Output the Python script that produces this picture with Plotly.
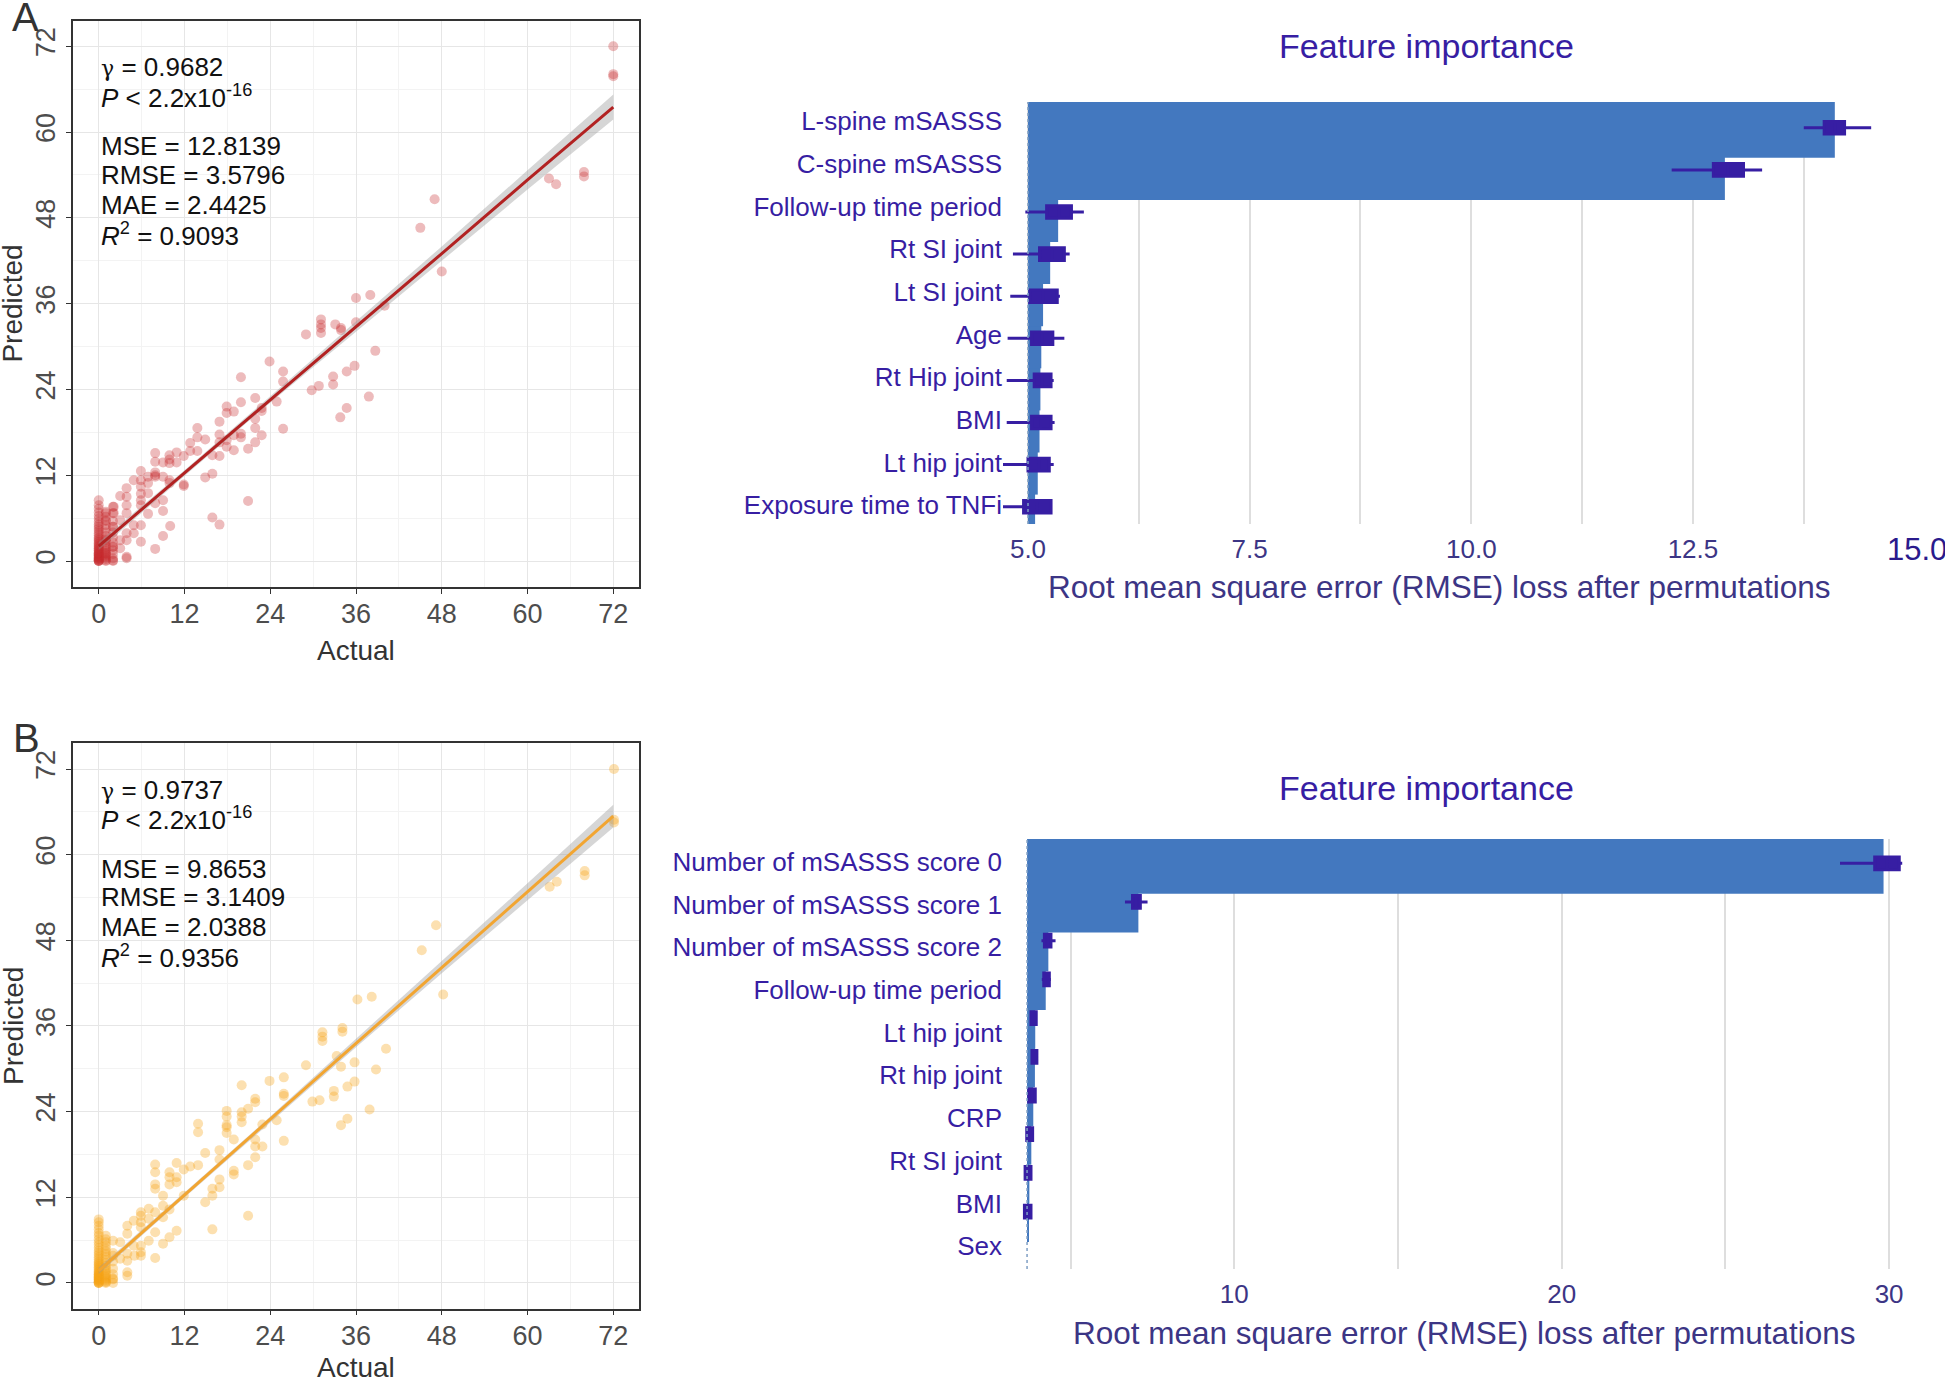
import plotly.graph_objects as go

W, H = 1945, 1382
FONT = "Liberation Sans, Arial, Helvetica, sans-serif"
INDIGO = "#371ea3"
BARBLUE = "#4378bf"

# ---------------- Panel A scatter (actual vs predicted) ----------------
A_actual_upper = [72, 72, 72, 67.9, 67.9, 63.0, 64.0, 47.0, 45.0, 48.0, 36.0, 38.0, 40.0,
                  31.1, 31.1, 31.1, 31.1, 33.1, 33.9, 33.9, 36.0, 29.0]
A_pred_upper = [72.0, 68.1, 67.8, 54.4, 53.8, 53.5, 52.7, 50.6, 46.6, 40.5, 36.8, 37.2, 35.7,
                33.8, 33.1, 32.6, 31.9, 33.1, 32.6, 32.3, 33.4, 31.7]
A_actual_mid = [38.7, 23.9, 25.8, 25.8, 19.9, 35.8, 34.7, 32.8, 32.8, 30.8,
                29.8, 37.8, 34.7, 33.8, 25.8, 21.9, 19.9, 17.9, 17.9, 18.9,
                24.9, 22.8, 22.8, 21.9, 21.9, 22.8, 21.9, 20.9, 19.9, 19.9,
                18.9, 17.9, 17.9, 16.9, 16.9, 16.9, 18.9, 16.9, 15.9, 13.8,
                13.8, 14.9, 12.8, 12.8, 13.8, 11.9, 10.9, 9.9, 9.9, 9.9,
                10.9, 9.0, 7.9, 7.9, 11.9, 11.9, 14.9, 15.9, 15.9, 16.9,
                20.9, 9.9, 9.9, 7.9, 7.9, 7.9, 9.0, 6.9, 5.9, 4.9,
                5.9, 5.9, 5.9, 5.9, 5.9, 6.9, 6.9, 7.9, 9.0, 9.0,
                6.9, 3.9, 3.9, 3.9, 3.9, 3.0, 3.0, 2.1, 2.1, 2.0,
                3.0, 3.0, 3.9, 3.9, 3.9, 3.9, 4.9, 4.9, 5.9, 5.9,
                7.9, 9.0, 10.0, 2.0, 2.0, 1.0, 1.0, 1.0, 1.0]
A_pred_mid = [29.4, 27.9, 26.5, 25.1, 25.7, 27.3, 26.5, 25.8, 24.7, 24.5,
              23.9, 23.0, 21.4, 20.1, 18.5, 22.8, 22.2, 21.6, 20.7, 20.9,
              22.3, 21.4, 21.0, 19.9, 18.6, 17.6, 16.6, 15.7, 17.8, 17.3,
              17.6, 16.9, 16.0, 19.5, 17.7, 16.6, 15.5, 14.7, 14.8, 18.6,
              17.3, 17.0, 16.5, 15.4, 15.4, 14.7, 15.2, 14.8, 14.2, 13.7,
              13.8, 13.8, 15.1, 13.9, 10.7, 10.5, 11.7, 12.2, 6.1, 5.1,
              8.4, 11.3, 10.9, 12.4, 12.0, 11.8, 11.8, 11.8, 12.6, 11.3,
              11.3, 10.4, 9.4, 8.5, 7.8, 10.9, 9.5, 8.1, 8.5, 7.0,
              6.6, 10.2, 9.0, 7.8, 6.7, 9.1, 5.7, 7.6, 6.7, 4.8,
              2.9, 1.8, 3.9, 2.9, 0.6, 0.4, 5.0, 3.9, 5.0, 2.7,
              1.7, 3.5, 4.9, 2.0, 0.1, 6.7, 5.7, 2.9, 1.1]
A_actual_low = [0] * 40 + [1] * 20 + [2] * 12
A_pred_low = [0.0, 0.0, 0.0, 0.1, 0.2, 0.3, 0.4, 0.5, 0.6, 0.7, 0.8, 0.9, 1.0, 1.1, 1.2, 1.4,
              1.5, 1.7, 1.8, 2.0, 2.1, 2.3, 2.5, 2.7, 2.9, 3.1, 3.3, 3.6, 3.9, 4.2, 4.5, 4.8,
              5.1, 5.5, 5.9, 6.3, 6.8, 7.3, 7.8, 8.5,
              0.0, 0.1, 0.3, 0.5, 0.7, 0.9, 1.1, 1.4, 1.7, 2.0, 2.3, 2.7, 3.1, 3.5, 4.0, 4.5,
              5.0, 5.6, 6.2, 6.9,
              0.0, 0.4, 1.0, 1.5, 2.0, 2.6, 3.3, 4.0, 4.8, 5.6, 6.7, 7.6]

A_fit_x = [0, 12, 24, 36, 48, 60, 72]
A_fit_y = [2.1, 12.3, 22.6, 32.8, 43.0, 53.3, 63.5]
A_fit_lo = [1.55, 11.9, 22.15, 32.1, 42.0, 51.95, 61.75]
A_fit_hi = [2.65, 12.7, 23.05, 33.5, 44.0, 54.65, 65.25]
GAMMA = '<span style="font-family:DejaVu Serif, Liberation Serif, serif;font-size:22px">γ</span>'
A_stats = [GAMMA + " = 0.9682", "<i>P</i> < 2.2x10<sup>-16</sup>", "MSE = 12.8139",
           "RMSE = 3.5796", "MAE = 2.4425", "<i>R</i><sup>2</sup> = 0.9093"]

# ---------------- Panel B scatter ----------------
B_actual_upper = [72.1, 72.1, 72.1, 68.0, 68.0, 64.1, 63.1, 47.2, 45.2, 48.2, 36.2, 38.2, 40.2,
                  31.3, 31.3, 31.3, 34.1, 34.1, 33.3]
B_pred_upper = [72.0, 64.9, 64.5, 57.7, 57.1, 56.2, 55.5, 50.1, 46.6, 40.4, 39.7, 40.1, 32.8,
                35.1, 34.5, 33.9, 35.7, 35.2, 31.8]
B_actual_mid = [38.8, 35.8, 33.9, 29.0, 23.9, 25.9, 25.9, 25.9, 20.0, 21.9,
                21.9, 20.9, 20.0, 20.0, 20.0, 17.9, 17.9, 17.9, 17.9, 17.9,
                13.9, 13.9, 18.9, 21.9, 21.9, 22.9, 21.9, 20.9, 22.9, 24.9,
                25.9, 29.9, 30.9, 32.9, 32.9, 34.8, 35.8, 34.8, 33.9, 37.9,
                16.9, 16.9, 15.9, 15.9, 14.9, 14.9, 16.9, 16.9, 18.9, 18.9,
                20.9, 15.9, 12.8, 13.9, 11.9, 10.9, 9.9, 9.9, 9.9, 10.9,
                10.9, 7.9, 7.9, 7.9, 7.9, 9.0, 9.0, 9.9, 11.9, 10.9,
                9.9, 7.9, 7.9, 7.0, 7.0, 7.0, 5.9, 5.9, 5.9, 5.9,
                5.9, 5.9, 5.9, 4.9, 4.9, 7.9, 9.0, 9.0, 4.0, 4.0,
                4.0, 4.0, 4.0, 4.0, 3.0, 3.0, 2.0, 2.0, 2.0, 5.0]
B_pred_mid = [29.9, 30.9, 30.3, 30.5, 28.3, 28.8, 26.5, 26.2, 27.7, 25.8,
              25.3, 24.4, 23.9, 23.3, 22.5, 24.1, 23.3, 22.1, 21.8, 21.0,
              22.3, 21.1, 20.1, 20.1, 19.1, 19.1, 17.6, 16.5, 22.2, 22.8,
              19.9, 25.4, 25.6, 26.9, 26.1, 27.5, 28.2, 23.0, 22.1, 24.3,
              18.6, 17.3, 13.2, 12.2, 18.2, 11.3, 14.5, 13.4, 15.7, 15.2,
              9.4, 7.5, 16.3, 16.5, 15.9, 16.8, 15.5, 14.8, 13.8, 14.8,
              14.1, 16.6, 15.5, 13.8, 13.2, 12.2, 10.8, 10.3, 12.2, 7.3,
              6.4, 9.9, 7.1, 10.4, 9.0, 5.9, 9.9, 9.4, 8.5, 7.8,
              5.2, 4.3, 3.8, 8.7, 5.2, 3.5, 5.5, 9.2, 8.0, 6.9,
              4.1, 3.1, 1.5, 1.0, 5.7, 3.4, 5.9, 3.8, 0.6, 3.8]
B_actual_low = [0] * 40 + [1] * 22 + [2] * 6
B_pred_low = [0.0, 0.0, 0.0, 0.1, 0.2, 0.3, 0.4, 0.5, 0.6, 0.7, 0.8, 0.9, 1.0, 1.1, 1.2, 1.3,
              1.5, 1.6, 1.8, 2.0, 2.2, 2.4, 2.6, 2.8, 3.0, 3.3, 3.6, 3.9, 4.2, 4.5, 4.9, 5.3,
              5.7, 6.1, 6.6, 7.0, 7.5, 8.0, 8.5, 8.9,
              0.0, 0.1, 0.2, 0.4, 0.6, 0.8, 1.0, 1.2, 1.5, 1.8, 2.1, 2.4, 2.8, 3.2, 3.6, 4.0,
              4.4, 4.8, 5.2, 5.7, 6.1, 6.6,
              0.0, 0.5, 1.2, 2.0, 3.0, 4.2]

B_fit_x = [0, 12, 24, 36, 48, 60, 72]
B_fit_y = [1.7, 12.3, 22.9, 33.6, 44.2, 54.8, 65.4]
B_fit_lo = [1.25, 11.95, 22.5, 33.0, 43.4, 53.6, 63.8]
B_fit_hi = [2.15, 12.65, 23.3, 34.2, 45.0, 56.0, 67.0]
B_stats = [GAMMA + " = 0.9737", "<i>P</i> < 2.2x10<sup>-16</sup>", "MSE = 9.8653",
           "RMSE = 3.1409", "MAE = 2.0388", "<i>R</i><sup>2</sup> = 0.9356"]

stats_y = [69.1, 65.0, 58.0, 54.0, 49.8, 45.7]
scatter_ticks = [0, 12, 24, 36, 48, 60, 72]

# ---------------- Feature importance (top) ----------------
top_features = ["L-spine mSASSS", "C-spine mSASSS", "Follow-up time period", "Rt SI joint",
                "Lt SI joint", "Age", "Rt Hip joint", "BMI", "Lt hip joint", "Exposure time to TNFi"]
top_full_loss = 5.0
top_loss = [14.10, 12.86, 5.34, 5.25, 5.17, 5.15, 5.14, 5.13, 5.11, 5.08]
top_q1 = [13.98, 12.73, 5.21, 5.13, 5.02, 5.04, 5.07, 5.04, 5.00, 4.95]
top_med = [14.10, 12.90, 5.35, 5.27, 5.17, 5.16, 5.16, 5.15, 5.12, 5.10]
top_q3 = [14.21, 13.07, 5.49, 5.41, 5.33, 5.28, 5.26, 5.26, 5.24, 5.26]
top_lo = [13.75, 12.26, 4.97, 4.83, 4.80, 4.77, 4.76, 4.76, 4.71, 4.70]
top_hi = [14.51, 13.28, 5.63, 5.47, 5.36, 5.41, 5.29, 5.30, 5.29, 5.26]
top_tickvals = [5.0, 7.5, 10.0, 12.5]
top_ticktext = ["5.0", "7.5", "10.0", "12.5"]

# ---------------- Feature importance (bottom) ----------------
bot_features = ["Number of mSASSS score 0", "Number of mSASSS score 1", "Number of mSASSS score 2",
                "Follow-up time period", "Lt hip joint", "Rt hip joint", "CRP", "Rt SI joint",
                "BMI", "Sex"]
bot_full_loss = 3.67
bot_loss = [29.83, 7.07, 4.32, 4.24, 3.92, 3.91, 3.86, 3.80, 3.74, 3.70]
bot_q1 = [29.56, 6.89, 4.20, 4.18, 3.79, 3.82, 3.72, 3.66, 3.61, 3.59]
bot_med = [29.95, 7.01, 4.30, 4.26, 3.87, 3.90, 3.82, 3.75, 3.70, 3.69]
bot_q3 = [30.31, 7.13, 4.40, 4.35, 3.95, 3.97, 3.92, 3.84, 3.79, 3.79]
bot_lo = [28.50, 6.66, 4.11, 4.12, 3.75, 3.79, 3.70, 3.63, 3.59, 3.57]
bot_hi = [30.40, 7.35, 4.54, 4.40, 3.98, 4.00, 3.95, 3.86, 3.81, 3.80]
bot_tickvals = [10, 20, 30]
bot_ticktext = ["10", "20", "30"]


def px(x):
    return x / W


def py(y):
    return 1 - y / H


fig = go.Figure()


def add_scatter(xa, ya, ax_u, pr_u, ax_m, pr_m, ax_l, pr_l, fx, fy, flo, fhi, pcolor, lcolor, popac):
    xs = ax_l + ax_m + ax_u
    ys = pr_l + pr_m + pr_u
    fig.add_trace(go.Scatter(x=xs, y=ys, mode="markers", xaxis=xa, yaxis=ya,
                             marker=dict(size=10, color=pcolor, opacity=popac, line=dict(width=0)),
                             showlegend=False, hoverinfo="skip"))
    fig.add_trace(go.Scatter(x=fx + fx[::-1], y=fhi + flo[::-1], xaxis=xa, yaxis=ya,
                             fill="toself", fillcolor="rgba(153,153,153,0.4)",
                             line=dict(width=0), mode="lines", showlegend=False, hoverinfo="skip"))
    fig.add_trace(go.Scatter(x=fx, y=fy, xaxis=xa, yaxis=ya, mode="lines",
                             line=dict(color=lcolor, width=3), showlegend=False, hoverinfo="skip"))


add_scatter("x", "y", A_actual_upper, A_pred_upper, A_actual_mid, A_pred_mid, A_actual_low, A_pred_low,
            A_fit_x, A_fit_y, A_fit_lo, A_fit_hi, "#c62a30", "#b22222", 0.32)
add_scatter("x2", "y2", B_actual_upper, B_pred_upper, B_actual_mid, B_pred_mid, B_actual_low, B_pred_low,
            B_fit_x, B_fit_y, B_fit_lo, B_fit_hi, "#f5a418", "#f2a531", 0.34)


def add_importance(xa, ya, ya_lab, feats, full, loss, q1, med, q3, lo, hi, width, offset, boxw):
    n = len(feats)
    rows = list(range(n))
    fig.add_trace(go.Bar(orientation="h", y=rows[::-1], x=[v - full for v in loss][::-1], base=full,
                         width=width, offset=offset, marker=dict(color=BARBLUE, line=dict(width=0)),
                         xaxis=xa, yaxis=ya, showlegend=False, hoverinfo="skip"))
    fig.add_trace(go.Box(orientation="h", y=rows, q1=q1, median=med, q3=q3,
                         lowerfence=lo, upperfence=hi, width=boxw, whiskerwidth=0,
                         fillcolor=INDIGO, line=dict(color=INDIGO, width=3), boxpoints=False,
                         xaxis=xa, yaxis=ya, showlegend=False, hoverinfo="skip"))
    fig.add_trace(go.Scatter(x=[full], y=[0], xaxis=xa, yaxis=ya_lab, mode="markers",
                             marker=dict(opacity=0), showlegend=False, hoverinfo="skip"))


add_importance("x3", "y3", "y5", top_features, top_full_loss, top_loss, top_q1, top_med, top_q3,
               top_lo, top_hi, 1.331, -0.618, 0.3)
add_importance("x4", "y4", "y6", bot_features, bot_full_loss, bot_loss, bot_q1, bot_med, bot_q3,
               bot_lo, bot_hi, 1.418, -0.630, 0.33)

sc_x_dom = [px(73), px(639)]
bar_x_dom = [px(1003), px(1910)]

scatter_axis = dict(range=[-3.6, 75.6], tickmode="array", tickvals=scatter_ticks,
                    showgrid=True, gridcolor="#e6e6e6", gridwidth=1.3, zeroline=False,
                    minor=dict(dtick=6, tick0=0, showgrid=True, gridcolor="#f3f3f3", gridwidth=1),
                    showline=True, linecolor="#333333", linewidth=1.5, mirror=True,
                    ticks="outside", ticklen=5, tickwidth=1.3, tickcolor="#333333",
                    tickfont=dict(family=FONT, size=27, color="#4d4d4d"))

imp_x_common = dict(domain=bar_x_dom, tickmode="array", showgrid=True, gridcolor="#dedede",
                    gridwidth=2, zeroline=False, showline=False, ticks="outside", ticklen=2,
                    tickcolor="rgba(0,0,0,0)",
                    tickfont=dict(family=FONT, size=26, color="#3c3585"))

layout = dict(
    width=W, height=H, margin=dict(l=0, r=0, t=0, b=0),
    paper_bgcolor="white", plot_bgcolor="white",
    font=dict(family=FONT), showlegend=False,
    barmode="overlay", boxmode="overlay",
    xaxis=dict(scatter_axis, domain=sc_x_dom, anchor="y", ticklabelstandoff=-3),
    yaxis=dict(scatter_axis, domain=[py(586.8), py(20.5)], anchor="x", tickangle=-90),
    xaxis2=dict(scatter_axis, domain=sc_x_dom, anchor="y2", ticklabelstandoff=-3),
    yaxis2=dict(scatter_axis, domain=[py(1308.6), py(743.3)], anchor="x2", tickangle=-90),
    xaxis3=dict(imp_x_common, anchor="y3", range=[4.718, 14.948],
                tickvals=top_tickvals, ticktext=top_ticktext,
                minor=dict(tickmode="linear", tick0=5.0, dtick=1.25, showgrid=True,
                           gridcolor="#dedede", gridwidth=2)),
    yaxis3=dict(domain=[py(524), py(102)], anchor="x3", range=[9.411, -0.613],
                showticklabels=False, showgrid=False, zeroline=False, showline=False, ticks=""),
    yaxis5=dict(overlaying="y3", anchor="x3", range=[9.438, -0.445], tickmode="array",
                tickvals=list(range(len(top_features))), ticktext=top_features,
                showgrid=False, zeroline=False, showline=False, ticks="",
                tickfont=dict(family=FONT, size=26, color=INDIGO)),
    xaxis4=dict(imp_x_common, anchor="y4", range=[2.935, 30.638],
                tickvals=bot_tickvals, ticktext=bot_ticktext,
                minor=dict(tickmode="linear", tick0=0, dtick=5, showgrid=True,
                           gridcolor="#dedede", gridwidth=2)),
    yaxis4=dict(domain=[py(1269), py(838.9)], anchor="x4", range=[10.483, -0.630],
                showticklabels=False, showgrid=False, zeroline=False, showline=False, ticks=""),
    yaxis6=dict(overlaying="y4", anchor="x4", range=[9.536, -0.536], tickmode="array",
                tickvals=list(range(len(bot_features))), ticktext=bot_features,
                showgrid=False, zeroline=False, showline=False, ticks="",
                tickfont=dict(family=FONT, size=26, color=INDIGO)),
)
fig.update_layout(**layout)

# baseline dotted lines (full model loss)
for xa, yd, full in (("x3", "y3 domain", top_full_loss), ("x4", "y4 domain", bot_full_loss)):
    fig.add_shape(type="line", xref=xa, yref=yd, x0=full, x1=full, y0=0, y1=1, layer="above",
                  line=dict(color="#7f9fc4", width=1.5, dash="dot"))

ann = []
ann.append(dict(text="A", x=px(25.5), y=py(17), xref="paper", yref="paper", showarrow=False,
                xanchor="center", yanchor="middle", font=dict(family=FONT, size=40, color="#333333")))
ann.append(dict(text="B", x=px(26.5), y=py(738), xref="paper", yref="paper", showarrow=False,
                xanchor="center", yanchor="middle", font=dict(family=FONT, size=40, color="#333333")))
for xr, yr, stats in (("x", "y", A_stats), ("x2", "y2", B_stats)):
    for s, yv in zip(stats, stats_y):
        ann.append(dict(text=s, x=0, y=yv, xref=xr, yref=yr, showarrow=False, xanchor="left",
                        yanchor="middle", font=dict(family=FONT, size=26, color="#111111")))
for ycen, ymid in ((650, 303.6), (1367, 1026)):
    ann.append(dict(text="Actual", x=px(356), y=py(ycen), xref="paper", yref="paper", showarrow=False,
                    xanchor="center", yanchor="middle", font=dict(family=FONT, size=28, color="#333333")))
    ann.append(dict(text="Predicted", x=px(13), y=py(ymid), xref="paper", yref="paper",
                    showarrow=False, textangle=-90, xanchor="center", yanchor="middle",
                    font=dict(family=FONT, size=28, color="#333333")))
for ty, axy, axx in ((46, 586.7, 1439), (787.7, 1333.4, 1464)):
    ann.append(dict(text="Feature importance", x=px(1426.5), y=py(ty), xref="paper", yref="paper",
                    showarrow=False, xanchor="center", yanchor="middle",
                    font=dict(family=FONT, size=34, color=INDIGO)))
    ann.append(dict(text="Root mean square error (RMSE) loss after permutations", x=px(axx), y=py(axy),
                    xref="paper", yref="paper", showarrow=False, xanchor="center", yanchor="middle",
                    font=dict(family=FONT, size=31.5, color="#3c3585")))
ann.append(dict(text="15.0", x=px(1917), y=py(549), xref="paper", yref="paper", showarrow=False,
                xanchor="center", yanchor="middle", font=dict(family=FONT, size=31, color="#2a1a8c")))
fig.update_layout(annotations=ann)

fig.write_html("out.html", config={"displayModeBar": False},
               post_script="document.body.style.margin='0px';")
